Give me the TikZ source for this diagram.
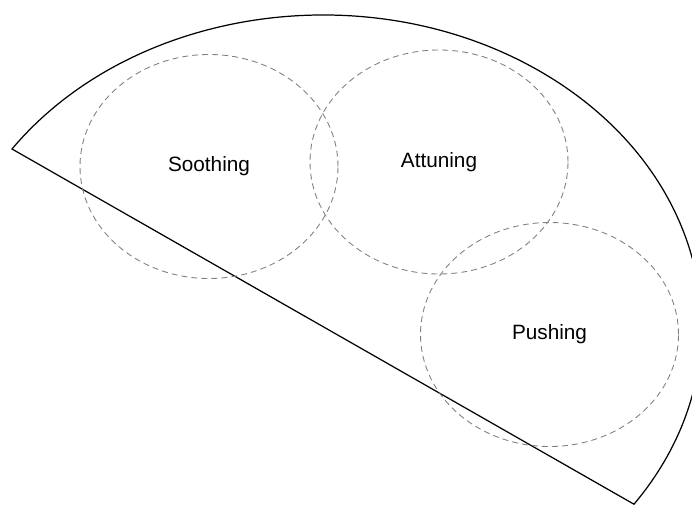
\documentclass[tikz,border=0pt]{standalone}
\usepackage{fontspec}
\setmainfont{Liberation Sans}
\usetikzlibrary{shapes.geometric}
\tikzset{
  zone/.style={ellipse, draw=black!50, dash pattern=on 3.4pt off 2.3pt, line width=0.5pt,
    minimum width=5.16cm, minimum height=4.48cm, inner sep=0pt,
    font=\fontsize{11.8}{14}\selectfont},
  rim/.style={line width=0.7pt}
}

\begin{document}
\begin{tikzpicture}
		%%%%% START %%%%%
		\useasboundingbox (0,0) rectangle (13.84,10.10);
		
		\draw[rim] (0.24,7.12) arc[start angle=145.25, end angle=-34.75, x radius=7.57, y radius=6.232] -- cycle;
		
		\node[zone] (soothing) at (4.18,6.77) {Soothing};
		\node[zone] (attuning) at (8.78,6.86) {Attuning};
		\node[zone] (pushing) at (10.99,3.41) {Pushing};
		%%%%% END %%%%%
\end{tikzpicture}
\end{document}
